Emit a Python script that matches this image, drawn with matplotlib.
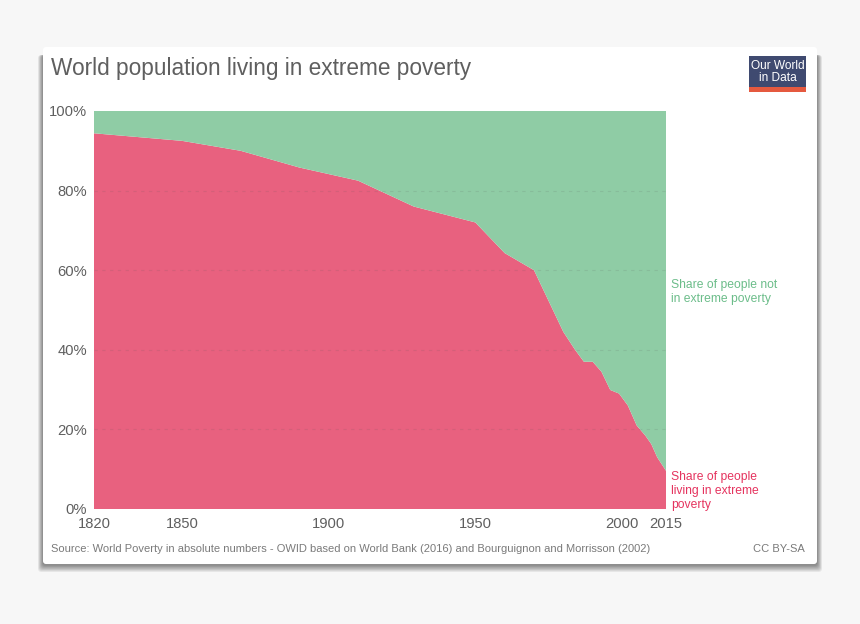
import matplotlib
matplotlib.use('Agg')
import matplotlib.pyplot as plt
from matplotlib.patches import FancyBboxPatch, Rectangle

plt.rcParams['font.family'] = ['Liberation Sans', 'DejaVu Sans']

W = 860
H = 624

years = [1820, 1850, 1870, 1890, 1910, 1929, 1950, 1960, 1970, 1980, 1984, 1987, 1990, 1993,
         1996, 1999, 2002, 2005, 2008, 2010, 2012, 2015]
in_poverty = [94.4, 92.5, 90.0, 85.8, 82.5, 76.0, 72.0, 64.3, 60.0, 44.5, 40.0, 37.0, 37.0, 34.5,
              29.9, 29.0, 26.0, 21.0, 18.4, 16.3, 13.0, 9.6]
not_in_poverty = [100 - v for v in in_poverty]

xticks = [1820, 1850, 1900, 1950, 2000, 2015]
yticks = [0, 20, 40, 60, 80, 100]

title = 'World population living in extreme poverty'
source = 'Source: World Poverty in absolute numbers - OWID based on World Bank (2016) and Bourguignon and Morrisson (2002)'

TEXT = '#5f5f5f'
RED = '#e8617f'
GREEN = '#8fcca5'


def fx(px):
    return px / W


def fy(py):
    return 1 - py / H


fig = plt.figure(figsize=(W / 100, H / 100), dpi=100, facecolor='#f7f7f7')

  # card shadow, then the white card
for i in range(10, 0, -1):
    fig.add_artist(FancyBboxPatch((43 - i * 0.5, H - 564 - 1 - i * 0.7), 774 + i * 1.0, 510 + i * 0.7,
                                  boxstyle='round,pad=0,rounding_size=3', transform=None,
                                  fc='black', ec='none', alpha=0.05))
fig.add_artist(FancyBboxPatch((43, H - 564), 774, 517, boxstyle='round,pad=0,rounding_size=3',
                              transform=None, fc='white', ec='none'))

ax = fig.add_axes([fx(94), fy(509), fx(666 - 94), (509 - 111) / H])
ax.set_zorder(5)
ax.patch.set_alpha(0)
ax.stackplot(years, in_poverty, not_in_poverty, colors=[RED, GREEN], linewidth=0, zorder=2)
ax.set_xlim(1820, 2015)
ax.set_ylim(0, 100)

  # faint dashed grid on top of the areas
for y in yticks[1:-1]:
    ax.axhline(y, color='#555555', alpha=0.13, linewidth=0.8, linestyle=(0, (3, 4)), zorder=3)

for s in ax.spines.values():
    s.set_visible(False)
ax.set_xticks(xticks)
ax.set_xticklabels([str(v) for v in xticks], fontsize=10.6, color=TEXT)
ax.set_yticks(yticks)
ax.set_yticklabels([str(v) + '%' for v in yticks], fontsize=10.6, color=TEXT)
ax.tick_params(axis='both', length=0)
ax.tick_params(axis='x', pad=6)
ax.tick_params(axis='y', pad=5)

fig.text(fx(51), fy(68), title, fontsize=16.3, color=TEXT, ha='left', va='center')
fig.text(fx(51), fy(549), source, fontsize=8.0, color='#7a7a7a', ha='left', va='center')
fig.text(fx(805), fy(549), 'CC BY-SA', fontsize=8.0, color='#7a7a7a', ha='right', va='center')

fig.text(fx(671), fy(292), 'Share of people not\nin extreme poverty', fontsize=8.7, color='#6cbd8a',
         ha='left', va='center', linespacing=1.25)
fig.text(fx(671), fy(491), 'Share of people\nliving in extreme\npoverty', fontsize=8.7, color='#e5345f',
         ha='left', va='center', linespacing=1.25)

  # logo
fig.add_artist(Rectangle((fx(749), fy(92)), 57 / W, 36 / H, transform=fig.transFigure, fc='#3f4a70', ec='none'))
fig.add_artist(Rectangle((fx(749), fy(92)), 57 / W, 5 / H, transform=fig.transFigure, fc='#e5593f', ec='none'))
fig.text(fx(777.5), fy(72), 'Our World\nin Data', fontsize=8.6, color='white', ha='center', va='center',
         linespacing=1.0)

fig.savefig('out.png', dpi=100, facecolor=fig.get_facecolor())
